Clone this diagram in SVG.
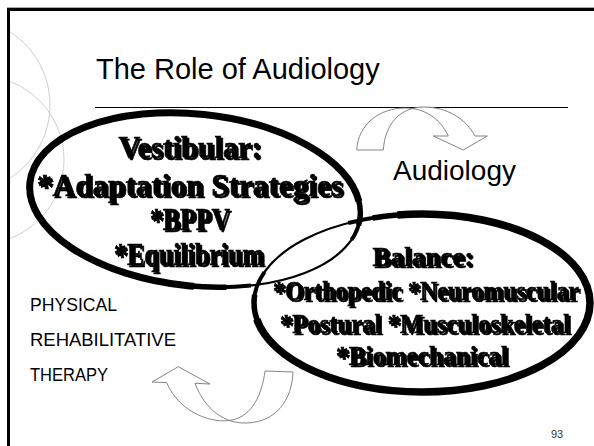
<svg xmlns="http://www.w3.org/2000/svg" width="594" height="446" viewBox="0 0 594 446">
<style>
.sans{font-family:"Liberation Sans",Arial,sans-serif;fill:#000}
.bold{font-family:"Liberation Serif","Times New Roman",serif;font-weight:bold;fill:#000;stroke:#000;stroke-width:0.6;text-anchor:middle}
.deco{fill:none;stroke:#cfcfcf;stroke-width:1}
.arrow{fill:#fff;stroke:#777;stroke-width:0.9;stroke-linejoin:miter}
.ell{fill:none;stroke:#000}
</style>
<defs>
<filter id="sh" x="-5%" y="-20%" width="115%" height="150%">
<feOffset in="SourceAlpha" dx="2" dy="2" result="o"/>
<feMerge><feMergeNode in="o"/><feMergeNode in="SourceGraphic"/></feMerge>
</filter>
<clipPath id="frameclip"><rect x="9" y="10" width="585" height="436"/></clipPath>
</defs>
<rect x="0" y="0" width="594" height="446" fill="#fff"/>
<g id="decor" clip-path="url(#frameclip)">
<circle class="deco" cx="-37" cy="105" r="87"/>
<circle class="deco" cx="-20" cy="160" r="84"/>
</g>
<g id="frame">
<line x1="7" y1="7.5" x2="594" y2="7.5" stroke="#aaa" stroke-width="1"/>
<line x1="7" y1="9.5" x2="594" y2="9.5" stroke="#000" stroke-width="3"/>
<line x1="8.5" y1="8" x2="8.5" y2="446" stroke="#000" stroke-width="3"/>
</g>
<g id="title">
<text class="sans" x="96" y="79" font-size="29">The Role of Audiology</text>
<line x1="95" y1="107.5" x2="568" y2="107.5" stroke="#000" stroke-width="1"/>
</g>
<g id="connectors">
<path class="arrow" d="M356.7,150 C358,124 380,108 405,108 C426,108 441,120 448.3,136 L433.3,136 L463.3,150 L487.3,136 L475,136 C466,119 447,107 424,107 C400,107 385,124 383.3,150 Z"/>
<path class="arrow" d="M152,382 L178.3,366.7 L210,384 L195,383.3 C205,410 225,424 247,423 C276,422 292,400 293,372 L265,371 C262,395 252,416 232,420 C214,424 180,414 166.7,382.7 Z"/>
</g>
<g id="vestibular">
<g transform="rotate(6 195 200)">
<ellipse class="ell" cx="195" cy="200" rx="166" ry="86" stroke-width="2.2"/>
<ellipse class="ell" cx="195" cy="200" rx="166" ry="86" pathLength="100" stroke-width="4" stroke-dasharray="86 14" stroke-dashoffset="-17"/>
<ellipse class="ell" cx="195" cy="200" rx="166" ry="86" pathLength="100" stroke-width="5.5" stroke-dasharray="81 19" stroke-dashoffset="-20"/>
<ellipse class="ell" cx="195" cy="200" rx="166" ry="86" pathLength="100" stroke-width="7" stroke-dasharray="74 26" stroke-dashoffset="-24"/>
</g>
<g filter="url(#sh)">
<text class="bold" x="190" y="158" font-size="31" textLength="143" lengthAdjust="spacingAndGlyphs">Vestibular:</text>
<text class="bold" x="190" y="196" font-size="31" textLength="306" lengthAdjust="spacingAndGlyphs">*Adaptation Strategies</text>
<text class="bold" x="190" y="230" font-size="31" textLength="80" lengthAdjust="spacingAndGlyphs">*BPPV</text>
<text class="bold" x="189" y="265" font-size="31" textLength="150" lengthAdjust="spacingAndGlyphs">*Equilibrium</text>
</g>
</g>
<g id="balance">
<ellipse class="ell" cx="422" cy="303" rx="168" ry="89" stroke-width="2.2"/>
<ellipse class="ell" cx="422" cy="303" rx="168" ry="89" pathLength="100" stroke-width="4" stroke-dasharray="88 12" stroke-dashoffset="-66"/>
<ellipse class="ell" cx="422" cy="303" rx="168" ry="89" pathLength="100" stroke-width="5.5" stroke-dasharray="82 18" stroke-dashoffset="-69"/>
<ellipse class="ell" cx="422" cy="303" rx="168" ry="89" pathLength="100" stroke-width="7.5" stroke-dasharray="76 24" stroke-dashoffset="-72"/>
<g filter="url(#sh)" transform="translate(0 315) scale(1 1.1) translate(0 -315)">
<text class="bold" x="423" y="270.5" font-size="25.5" textLength="101" lengthAdjust="spacingAndGlyphs">Balance:</text>
<text class="bold" x="426" y="301.4" font-size="25" textLength="306" lengthAdjust="spacingAndGlyphs">*Orthopedic *Neuromuscular</text>
<text class="bold" x="425" y="331.4" font-size="25.5" textLength="290" lengthAdjust="spacingAndGlyphs">*Postural *Musculoskeletal</text>
<text class="bold" x="422" y="360.5" font-size="25.5" textLength="172" lengthAdjust="spacingAndGlyphs">*Biomechanical</text>
</g>
</g>
<g id="audiology">
<text class="sans" x="393" y="180" font-size="28">Audiology</text>
</g>
<g id="therapy">
<text class="sans" x="30" y="311" font-size="19" textLength="87" lengthAdjust="spacingAndGlyphs">PHYSICAL</text>
<text class="sans" x="30" y="346" font-size="19" textLength="146" lengthAdjust="spacingAndGlyphs">REHABILITATIVE</text>
<text class="sans" x="30" y="381" font-size="19" textLength="78" lengthAdjust="spacingAndGlyphs">THERAPY</text>
</g>
<g id="page">
<text class="sans" x="551" y="438" font-size="11" style="fill:#333">93</text>
</g>
</svg>
